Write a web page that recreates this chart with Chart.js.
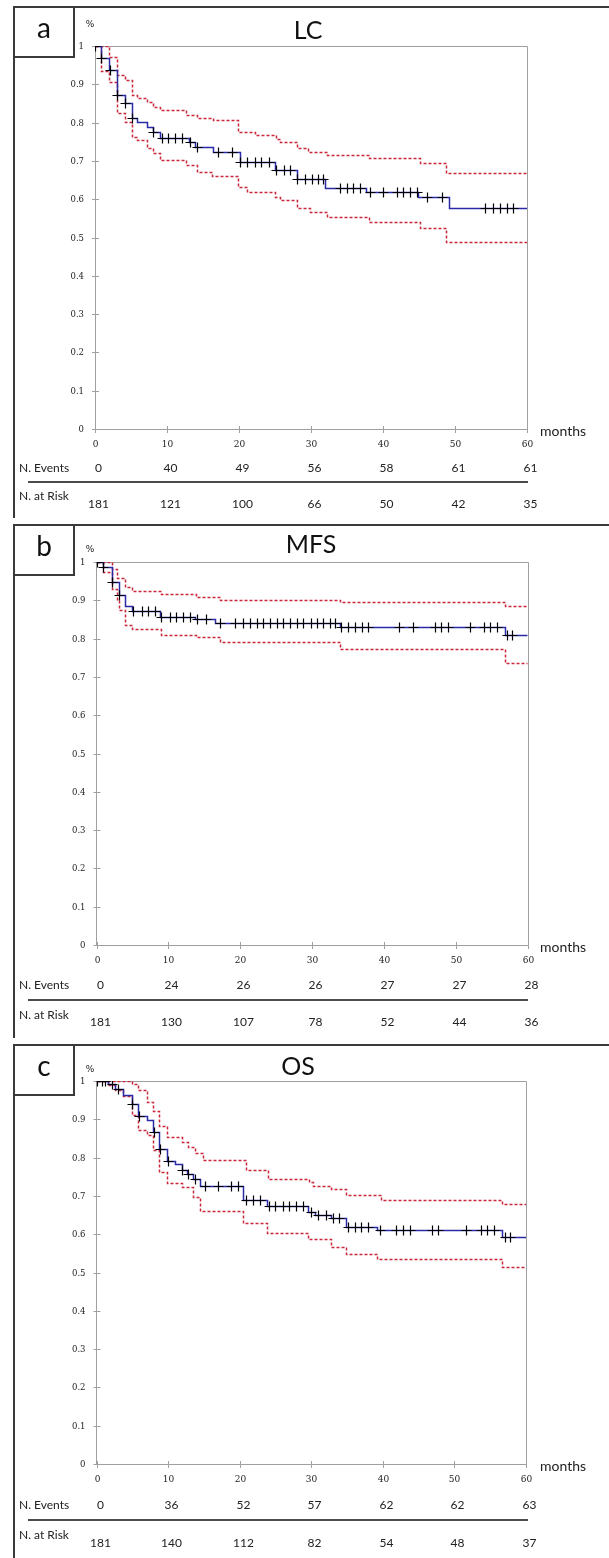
<!DOCTYPE html>
<html>
<head>
<meta charset="utf-8">
<script src="https://cdn.jsdelivr.net/npm/chart.js@4.4.1/dist/chart.umd.min.js"></script>
<style>
  html, body { margin: 0; padding: 0; background: #fff; }
  #wrap { position: relative; width: 609px; height: 1558px; overflow: hidden; }
  #wrap canvas { position: absolute; left: 0; }
</style>
</head>
<body>
<div id="wrap">
  <canvas id="lc" width="609" height="518" style="top:0"></canvas>
  <canvas id="mfs" width="609" height="520" style="top:518px"></canvas>
  <canvas id="os" width="609" height="520" style="top:1038px"></canvas>
</div>
<script>
// ─── Axes ───
const xTicks = [0, 10, 20, 30, 40, 50, 60];
const yTicks = [0, 0.1, 0.2, 0.3, 0.4, 0.5, 0.6, 0.7, 0.8, 0.9, 1];
const yTickLabels = ['0', '0.1', '0.2', '0.3', '0.4', '0.5', '0.6', '0.7', '0.8', '0.9', '1'];

// ─── a: LC ───
const lcTime = [0, 0.9, 1.9, 3.0, 4.2, 5.2, 5.9, 7.2, 8.1, 9.0, 13.0, 13.9, 16.4, 20.1, 25.0, 28.0, 31.9, 37.7, 44.9, 49.1, 60];
const lcSurv = [1, 0.968, 0.937, 0.872, 0.850, 0.811, 0.802, 0.789, 0.776, 0.760, 0.750, 0.737, 0.724, 0.698, 0.676, 0.652, 0.628, 0.620, 0.607, 0.576, 0.576];
const lcUpperTime = [0, 1.9, 3.0, 4.2, 5.2, 5.9, 7.2, 8.1, 9.0, 12.7, 14.1, 16.4, 19.9, 22.2, 25.2, 25.7, 28.0, 29.6, 32.2, 38.0, 45.1, 48.8, 60];
const lcUpper = [1, 0.972, 0.924, 0.911, 0.872, 0.863, 0.855, 0.842, 0.833, 0.820, 0.812, 0.806, 0.776, 0.768, 0.756, 0.750, 0.733, 0.724, 0.715, 0.707, 0.694, 0.668, 0.668];
const lcLowerTime = [0, 0.9, 1.9, 3.0, 4.2, 5.2, 5.9, 7.2, 8.1, 9.0, 12.7, 14.1, 16.2, 19.9, 21.1, 25.0, 25.7, 28.0, 29.9, 32.2, 38.0, 45.1, 48.8, 60];
const lcLower = [1, 0.935, 0.905, 0.826, 0.802, 0.763, 0.755, 0.734, 0.720, 0.703, 0.689, 0.672, 0.661, 0.633, 0.620, 0.607, 0.598, 0.576, 0.567, 0.553, 0.541, 0.524, 0.489, 0.489];
const lcCensored = [0, 0.9, 2.1, 3.0, 4.2, 5.2, 8.1, 9.3, 10.1, 11.1, 12.1, 13.2, 14.1, 17.1, 19.0, 20.1, 21.1, 22.2, 23.1, 24.1, 25.2, 26.2, 27.1, 28.0, 29.2, 30.1, 31.0, 31.7, 34.0, 35.0, 35.9, 36.8, 38.2, 40.0, 41.9, 42.8, 43.8, 44.7, 46.1, 48.2, 54.2, 55.3, 56.3, 57.2, 58.1];
const lcEvents = [0, 40, 49, 56, 58, 61, 61];
const lcRisk = [181, 121, 100, 66, 50, 42, 35];

// ─── b: MFS ───
const mfsTime = [0, 0.9, 2.1, 3.1, 4.0, 4.9, 8.8, 13.7, 16.5, 33.9, 56.9, 60];
const mfsSurv = [1, 0.987, 0.948, 0.913, 0.884, 0.872, 0.856, 0.850, 0.842, 0.829, 0.810, 0.810];
const mfsUpperTime = [0, 2.1, 2.8, 4.0, 4.9, 9.0, 13.9, 17.2, 33.9, 56.9, 60];
const mfsUpper = [1, 0.983, 0.957, 0.935, 0.924, 0.916, 0.909, 0.900, 0.896, 0.884, 0.884];
const mfsLowerTime = [0, 0.9, 2.1, 2.8, 3.1, 4.0, 4.9, 9.0, 13.9, 17.2, 33.9, 56.9, 60];
const mfsLower = [1, 0.975, 0.930, 0.900, 0.874, 0.835, 0.826, 0.809, 0.803, 0.791, 0.774, 0.736, 0.736];
const mfsCensored = [0, 0.9, 2.1, 3.1, 5.1, 6.3, 7.2, 8.1, 9.0, 10.2, 11.1, 12.0, 13.0, 14.0, 15.2, 17.2, 19.3, 20.4, 21.4, 22.3, 23.2, 24.1, 25.1, 26.0, 26.9, 27.9, 28.8, 29.8, 30.7, 31.6, 32.5, 33.2, 34.1, 35.0, 36.0, 36.9, 37.8, 42.1, 44.1, 47.1, 48.0, 49.0, 52.0, 53.9, 54.8, 55.7, 57.1, 57.8];
const mfsEvents = [0, 24, 26, 26, 27, 27, 28];
const mfsRisk = [181, 130, 107, 78, 52, 44, 36];

// ─── c: OS ───
const osTime = [0, 1.6, 2.6, 3.7, 4.9, 5.8, 7.0, 7.9, 8.8, 9.9, 11.0, 11.9, 12.6, 13.5, 14.4, 20.5, 23.8, 29.6, 30.5, 32.7, 34.8, 39.2, 56.6, 60];
const osSurv = [1, 0.993, 0.980, 0.963, 0.941, 0.908, 0.897, 0.867, 0.823, 0.791, 0.782, 0.767, 0.758, 0.745, 0.726, 0.690, 0.674, 0.657, 0.649, 0.641, 0.619, 0.610, 0.593, 0.593];
const osUpperTime = [0, 4.9, 5.8, 7.0, 7.9, 8.8, 9.9, 11.9, 12.8, 13.7, 14.9, 20.9, 23.9, 29.7, 30.3, 32.7, 34.8, 39.7, 56.7, 60];
const osUpper = [1, 0.993, 0.976, 0.945, 0.922, 0.882, 0.854, 0.841, 0.828, 0.812, 0.795, 0.767, 0.745, 0.735, 0.727, 0.719, 0.702, 0.690, 0.678, 0.678];
const osLowerTime = [0, 1.6, 2.6, 3.7, 4.9, 5.8, 7.0, 7.9, 8.8, 9.9, 11.9, 13.5, 14.4, 20.5, 23.8, 29.6, 32.7, 34.8, 39.2, 56.6, 60];
const osLower = [1, 0.990, 0.976, 0.960, 0.910, 0.871, 0.858, 0.819, 0.762, 0.734, 0.723, 0.697, 0.660, 0.628, 0.602, 0.587, 0.567, 0.548, 0.534, 0.514, 0.514];
const osCensored = [0, 0.7, 1.2, 2.1, 3.0, 4.9, 5.9, 8.0, 8.9, 10.0, 11.9, 12.8, 13.7, 15.1, 17.0, 18.8, 19.8, 20.9, 21.8, 22.8, 24.1, 25.0, 26.0, 26.9, 27.8, 28.8, 29.9, 30.9, 32.0, 33.0, 33.9, 35.1, 36.1, 37.0, 37.9, 39.6, 41.9, 42.8, 43.8, 46.8, 47.7, 51.6, 53.7, 54.6, 55.5, 57.1, 57.8];
const osEvents = [0, 36, 52, 57, 62, 62, 63];
const osRisk = [181, 140, 112, 82, 54, 48, 37];

// ─── helpers ───
const points = (times, values) => times.map((t, i) => ({ x: t, y: values[i] }));

// survival value of the step curve at time t (for placing censor marks)
function survivalAt(times, values, t) {
    let s = values[0];
    for (let i = 0; i < times.length; i++) {
        if (times[i] <= t + 1e-9) s = values[i];
    }
    return s;
}

// linear scale that snaps to pixel centres so thin step lines stay crisp
class CrispLinear extends Chart.LinearScale {
    getPixelForValue(value) {
        return Math.round(super.getPixelForValue(value)) + 0.5;
    }
}
CrispLinear.id = 'crispLinear';
CrispLinear.defaults = Chart.LinearScale.defaults;
Chart.register(CrispLinear);

const FRAME = '#3a3a3a';
const AXIS = '#a0a0a0';
const TEXT = '#222';
const KM_BLUE = '#2a2aa6';
const CI_RED = '#c8283a';

// decorations: panel frame, letter box, title, axis box, crossing ticks, risk table
function makeDeco(p) {
    return {
        id: 'deco',
        beforeDatasetsDraw(chart) {
            const { ctx, chartArea: a, scales: { x, y } } = chart;
            const top = Math.round(a.top) + 0.5;
            const right = Math.round(a.right) + 0.5;
            ctx.save();
            ctx.strokeStyle = AXIS;
            ctx.lineWidth = 1;
            ctx.beginPath();
            ctx.moveTo(a.left, top);
            ctx.lineTo(right, top);
            ctx.lineTo(right, a.bottom);
            ctx.stroke();
            ctx.beginPath();
            xTicks.forEach(v => {
                const px = x.getPixelForValue(v);
                ctx.moveTo(px, a.bottom - 3);
                ctx.lineTo(px, a.bottom + 4);
            });
            yTicks.forEach(v => {
                const py = y.getPixelForValue(v);
                ctx.moveTo(a.left - 3, py);
                ctx.lineTo(a.left + 4, py);
            });
            ctx.stroke();
            ctx.restore();
        },
        afterDraw(chart) {
            const { ctx, chartArea: a, scales: { x } } = chart;
            const H = chart.height;
            ctx.save();

            // panel frame + letter box
            ctx.strokeStyle = FRAME;
            ctx.lineWidth = 2;
            ctx.beginPath();
            ctx.moveTo(14, H);
            ctx.lineTo(14, p.frame);
            ctx.lineTo(609, p.frame);
            ctx.moveTo(74, p.frame);
            ctx.lineTo(74, p.frame + 50);
            ctx.lineTo(14, p.frame + 50);
            ctx.stroke();

            ctx.fillStyle = '#111';
            ctx.textAlign = 'center';
            ctx.textBaseline = 'alphabetic';
            ctx.font = '28px Lato';
            ctx.fillText(p.letter, 44, p.frame + 31);
            ctx.font = '25px Lato';
            ctx.fillText(p.title, p.titleX, p.titleY);

            // % and months
            ctx.fillStyle = TEXT;
            ctx.font = '9px "DejaVu Sans"';
            ctx.textBaseline = 'middle';
            ctx.fillText('%', 90, p.pctY);
            ctx.textAlign = 'left';
            ctx.font = '14px Lato';
            ctx.fillText('months', 540, a.bottom + 2);

            // table
            const r = p.rows;
            ctx.font = '12px Lato';
            ctx.fillText('N. Events', 19, a.bottom + r[0]);
            ctx.fillText('N. at Risk', 19, a.bottom + r[2] - 1);
            ctx.textAlign = 'center';
            xTicks.forEach((t, i) => {
                const px = x.getPixelForValue(t) + 3;
                ctx.fillText(String(p.events[i]), px, a.bottom + r[0]);
                ctx.fillText(String(p.risk[i]), px, a.bottom + r[3]);
            });
            ctx.strokeStyle = '#111';
            ctx.lineWidth = 1.5;
            ctx.beginPath();
            ctx.moveTo(28, a.bottom + r[1]);
            ctx.lineTo(528, a.bottom + r[1]);
            ctx.stroke();
            ctx.restore();
        }
    };
}

const panels = [
    { canvas: 'lc', height: 518, letter: 'a', title: 'LC', frame: 7, plotTop: 46, plotBottom: 429, plotLeft: 95, plotRight: 527,
      titleX: 308, titleY: 39, pctY: 25, rows: [39, 53, 68, 75],
      time: lcTime, surv: lcSurv, upT: lcUpperTime, up: lcUpper, loT: lcLowerTime, lo: lcLower, cens: lcCensored, events: lcEvents, risk: lcRisk },
    { canvas: 'mfs', height: 520, letter: 'b', title: 'MFS', frame: 7, plotTop: 44, plotBottom: 427, plotLeft: 96.5, plotRight: 527.5,
      titleX: 311, titleY: 35, pctY: 32, rows: [40, 55, 71, 77],
      time: mfsTime, surv: mfsSurv, upT: mfsUpperTime, up: mfsUpper, loT: mfsLowerTime, lo: mfsLower, cens: mfsCensored, events: mfsEvents, risk: mfsRisk },
    { canvas: 'os', height: 520, letter: 'c', title: 'OS', frame: 7, plotTop: 43, plotBottom: 426, plotLeft: 96.5, plotRight: 526,
      titleX: 298, titleY: 37, pctY: 32, rows: [41, 56, 72, 79],
      time: osTime, surv: osSurv, upT: osUpperTime, up: osUpper, loT: osLowerTime, lo: osLower, cens: osCensored, events: osEvents, risk: osRisk }
];

const Y_AXIS_W = 30;
const X_AXIS_H = 20;

panels.forEach(p => {
    const ctx = document.getElementById(p.canvas).getContext('2d');
    const censorPts = p.cens.map(t => ({ x: t, y: survivalAt(p.time, p.surv, t) }));

    new Chart(ctx, {
        type: 'line',
        data: {
            datasets: [
                {
                    label: 'censored',
                    data: censorPts,
                    showLine: false,
                    pointStyle: 'cross',
                    pointRadius: 5,
                    pointHoverRadius: 5,
                    pointBorderColor: '#000',
                    pointBorderWidth: 1.2
                },
                {
                    label: p.title,
                    data: points(p.time, p.surv),
                    stepped: true,
                    borderColor: KM_BLUE,
                    borderWidth: 1.5,
                    pointRadius: 0,
                    fill: false
                },
                {
                    label: 'upper 95% CI',
                    data: points(p.upT, p.up),
                    stepped: true,
                    borderColor: CI_RED,
                    borderWidth: 1.5,
                    borderDash: [3, 2],
                    pointRadius: 0,
                    fill: false
                },
                {
                    label: 'lower 95% CI',
                    data: points(p.loT, p.lo),
                    stepped: true,
                    borderColor: CI_RED,
                    borderWidth: 1.5,
                    borderDash: [3, 2],
                    pointRadius: 0,
                    fill: false
                }
            ]
        },
        options: {
            responsive: false,
            animation: false,
            layout: {
                padding: {
                    top: p.plotTop,
                    left: p.plotLeft - Y_AXIS_W,
                    right: 609 - p.plotRight,
                    bottom: p.height - p.plotBottom - X_AXIS_H
                }
            },
            scales: {
                x: {
                    type: 'crispLinear',
                    min: 0,
                    max: 60,
                    afterBuildTicks: s => { s.ticks = xTicks.map(v => ({ value: v })); },
                    afterFit: s => { s.height = X_AXIS_H; },
                    grid: { display: false, drawTicks: false },
                    border: { display: true, color: AXIS, width: 1 },
                    ticks: {
                        padding: 10,
                        maxRotation: 0,
                        autoSkip: false,
                        color: TEXT,
                        font: { family: 'DejaVu Serif', size: 9 }
                    }
                },
                y: {
                    type: 'crispLinear',
                    min: 0,
                    max: 1,
                    afterBuildTicks: s => { s.ticks = yTicks.map(v => ({ value: v })); },
                    afterFit: s => { s.width = Y_AXIS_W; },
                    grid: { display: false, drawTicks: false },
                    border: { display: true, color: AXIS, width: 1 },
                    ticks: {
                        padding: 11,
                        autoSkip: false,
                        color: TEXT,
                        font: { family: 'DejaVu Serif', size: 8.5 },
                        callback: (v, i) => yTickLabels[i]
                    }
                }
            },
            plugins: {
                legend: { display: false },
                tooltip: { enabled: false }
            }
        },
        plugins: [makeDeco(p)]
    });
});
</script>
</body>
</html>
